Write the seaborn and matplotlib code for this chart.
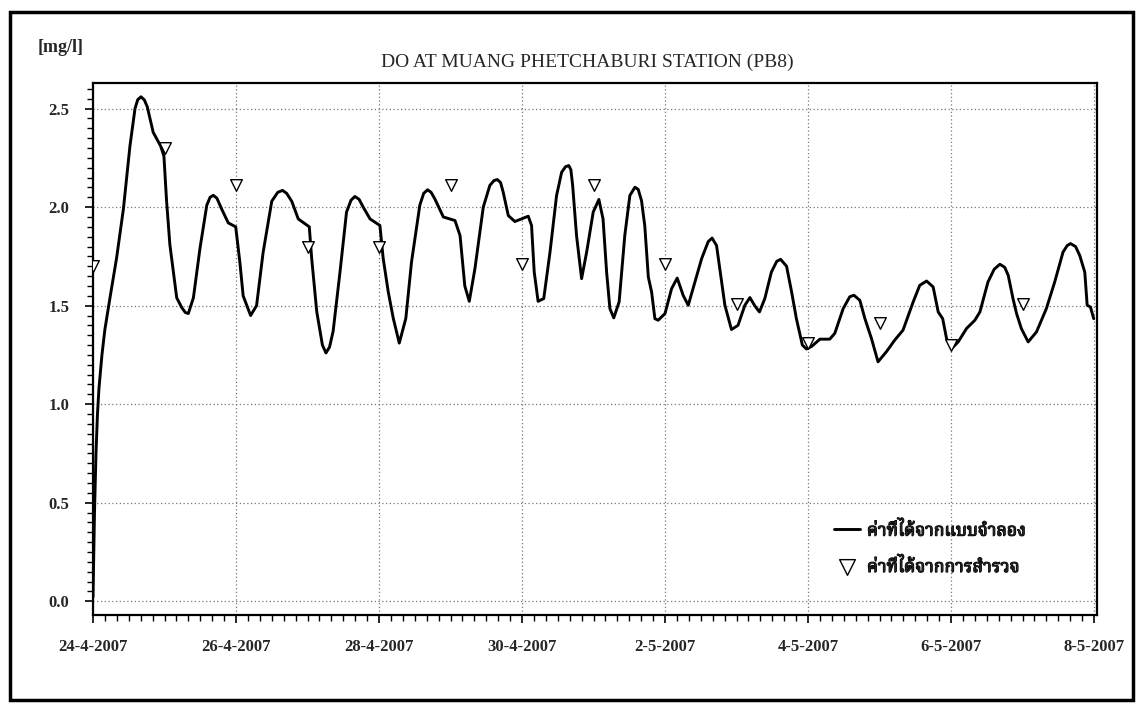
import pandas as pd
import numpy as np
import matplotlib
matplotlib.use("Agg")
import matplotlib.pyplot as plt
import matplotlib.patches as patches
import matplotlib.patheffects as pe
from matplotlib import font_manager
import seaborn as sns

# ============================
# Data
# ============================
start = pd.Timestamp("2007-04-24 00:00")

# model output: hours after 24-4-2007 00:00, DO in mg/l
model_hours = [0, 0.5, 1.0, 1.5, 2.0, 3.0, 4.0, 5.7, 7.9, 10.2, 12.4, 14.1, 15.0, 16.1, 17.2,
               18.2, 20.2, 22.7, 23.8, 24.7, 25.8, 28.1, 29.8, 31.0, 32.0, 33.7, 35.9,
               38.2, 39.3, 40.4, 41.6, 43.2, 45.4, 47.9, 49.3, 50.4, 52.9, 54.9, 57.1,
               60.0, 62.0, 63.6, 65.0, 66.7, 68.9, 72.6, 73.4, 75.1, 77.0, 78.2, 79.4,
               80.6, 82.9, 85.1, 86.6, 87.9, 89.3, 90.7, 93.0, 96.3, 97.4, 99.1, 100.8,
               102.8, 105.0, 106.9, 109.7, 111.0, 112.3, 113.5, 114.8, 117.6, 121.5,
               123.2, 124.8, 126.3, 128.2, 131.0, 133.2, 134.6, 135.7, 136.8, 137.7,
               139.4, 141.6, 146.1, 147.2, 148.1, 149.4, 151.3, 153.4, 155.6, 157.3,
               158.6, 159.7, 160.4, 161.0, 162.3, 164.0, 165.7, 167.9, 169.8, 171.2,
               172.4, 173.5, 174.8, 176.6, 178.5, 180.2, 181.9, 183.0, 184.1, 185.2,
               186.4, 187.5, 188.6, 189.7, 192.0, 194.2, 196.1, 198.1, 199.8, 201.4,
               204.3, 206.5, 207.8, 209.3, 211.0, 212.1, 214.3, 216.5, 218.8, 220.5,
               222.1, 223.7, 225.5, 227.7, 229.5, 230.8, 232.8, 234.5, 236.1, 238.1,
               239.5, 241.2, 244.0, 247.3, 249.0, 251.8, 254.0, 255.4, 257.4, 259.1,
               261.3, 263.5, 266.3, 269.1, 271.9, 275.3, 277.5, 279.8, 282.0, 283.7,
               285.2, 286.5, 288.2, 290.4, 293.2, 296.0, 297.7, 300.4, 302.5, 304.4,
               306.0, 307.2, 308.8, 310.0, 311.6, 313.9, 316.7, 320.0, 322.8, 325.6,
               327.0, 328.1, 329.8, 331.2, 332.9, 333.7, 334.8, 335.9]
model_do = [0.02, 0.45, 0.75, 0.95, 1.08, 1.25, 1.38, 1.54, 1.74, 1.99, 2.31, 2.50, 2.545, 2.56, 2.545,
            2.51, 2.38, 2.31, 2.26, 2.03, 1.81, 1.54, 1.49, 1.465, 1.46, 1.54, 1.79,
            2.01, 2.05, 2.06, 2.045, 1.99, 1.92, 1.90, 1.72, 1.55, 1.45, 1.50, 1.77,
            2.03, 2.075, 2.085, 2.07, 2.03, 1.94, 1.90, 1.74, 1.47, 1.30, 1.26, 1.29,
            1.37, 1.67, 1.975, 2.035, 2.054, 2.04, 2.00, 1.94, 1.907, 1.74, 1.57, 1.435,
            1.31, 1.435, 1.72, 2.01, 2.07, 2.088, 2.075, 2.04, 1.95, 1.932,
            1.856, 1.60, 1.522, 1.688, 2.00, 2.11, 2.135, 2.14, 2.125, 2.075,
            1.957, 1.927, 1.954, 1.907, 1.67, 1.522, 1.536, 1.772, 2.059, 2.177,
            2.205, 2.211, 2.19, 2.11, 1.856, 1.637, 1.772, 1.975, 2.039, 1.94,
            1.67, 1.485, 1.438, 1.519, 1.856, 2.059, 2.101, 2.09, 2.034, 1.907,
            1.645, 1.569, 1.434, 1.426, 1.46, 1.586, 1.64, 1.552, 1.502, 1.586,
            1.739, 1.825, 1.843, 1.805, 1.62, 1.502, 1.379, 1.40, 1.502, 1.541,
            1.50, 1.468, 1.536, 1.67, 1.725, 1.735, 1.70, 1.569, 1.434, 1.30,
            1.28, 1.293, 1.33, 1.33, 1.36, 1.485, 1.545, 1.553, 1.527, 1.434,
            1.333, 1.215, 1.266, 1.325, 1.376, 1.519, 1.603, 1.625, 1.595, 1.468,
            1.434, 1.333, 1.282, 1.316, 1.384, 1.426, 1.468, 1.62, 1.685, 1.71,
            1.695, 1.654, 1.536, 1.46, 1.384, 1.316, 1.367, 1.485, 1.62, 1.772,
            1.805, 1.815, 1.80, 1.755, 1.67, 1.502, 1.493, 1.434]

# survey values, one per day at 00:00
survey_dates = ["2007-04-24", "2007-04-25", "2007-04-26", "2007-04-27", "2007-04-28",
                "2007-04-29", "2007-04-30", "2007-05-01", "2007-05-02", "2007-05-03",
                "2007-05-04", "2007-05-05", "2007-05-06", "2007-05-07"]
survey_do = [1.70, 2.30, 2.11, 1.80, 1.80, 2.11, 1.71, 2.11, 1.71, 1.51,
             1.31, 1.41, 1.30, 1.51]

label_model = "ค่าที่ได้จากแบบจำลอง"
label_survey = "ค่าที่ได้จากการสำรวจ"
title = "DO AT MUANG PHETCHABURI STATION (PB8)"
unit = "[mg/l]"

model_time = start + pd.to_timedelta(model_hours, unit="h")
survey_time = pd.to_datetime(survey_dates)

# ============================
# Style / fonts
# ============================
sns.set_style("ticks")
installed = {f.name for f in font_manager.fontManager.ttflist}
thai_candidates = ["Noto Serif Thai", "Noto Sans Thai", "Noto Sans Thai Looped", "Loma",
                   "Garuda", "Norasi", "Kinnari", "Tlwg Typo", "Waree", "Sawasdee",
                   "Umpush", "Laksaman", "Purisa"]
thai_fonts = [n for n in thai_candidates if n in installed]
plt.rcParams["font.family"] = ["Liberation Serif"] + thai_fonts + ["DejaVu Sans"]

fig = plt.figure(figsize=(11.36, 7.04), dpi=100)
ax = fig.add_axes([93 / 1136, 1 - 615 / 704, 1004 / 1136, 532 / 704])

sns.lineplot(x=model_time, y=model_do, ax=ax, color="black", lw=2.1,
             label=label_model, zorder=2)
sns.scatterplot(x=survey_time, y=survey_do, ax=ax, marker="v", s=70,
                color="white", edgecolor="black", linewidth=1.0,
                label=label_survey, zorder=3)

# axes
ax.set_xlim(start, pd.Timestamp("2007-05-08 01:00"))
ax.set_ylim(-0.07, 2.63)

major_x = pd.date_range("2007-04-24", "2007-05-08", freq="2D")
ax.set_xticks(major_x)
ax.set_xticklabels([f"{d.day}-{d.month}-{d.year}" for d in major_x])
ax.set_xticks(pd.date_range("2007-04-24", "2007-05-08", freq="4h"), minor=True)

ax.set_yticks(np.arange(0, 2.51, 0.5))
ax.set_yticklabels([f"{v:.1f}" for v in np.arange(0, 2.51, 0.5)])
ax.set_yticks(np.arange(0, 2.61, 0.05), minor=True)

ax.tick_params(axis="both", which="major", length=6, width=1.2, color="black",
               labelsize=12)
ax.tick_params(axis="both", which="minor", length=4, width=1.0, color="black")
ax.tick_params(axis="x", which="major", pad=11)
ax.tick_params(axis="y", which="major", pad=11)
for lab in ax.get_xticklabels() + ax.get_yticklabels():
    lab.set_fontweight("bold")

ax.grid(True, which="major", linestyle=(0, (1, 2)), color="#777777", lw=0.9)
for s in ax.spines.values():
    s.set_visible(True)
    s.set_linewidth(1.6)
    s.set_color("black")
ax.set_xlabel("")
ax.set_ylabel("")

leg = ax.legend(loc="upper left", bbox_to_anchor=(0.729, 0.192), frameon=False,
                fontsize=12.6, handlelength=1.5, handletextpad=0.4,
                labelspacing=1.05, markerscale=1.35, borderpad=0)
for t in leg.get_texts():
    t.set_fontweight("bold")
    # the Thai font has no bold face, thicken the strokes instead
    t.set_path_effects([pe.withStroke(linewidth=0.9, foreground="black")])

# titles
fig.text(587 / 1136, 1 - 62 / 704, title, ha="center", va="center", fontsize=14)
fig.text(38 / 1136, 1 - 47 / 704, unit, ha="left", va="center", fontsize=13,
         fontweight="bold")

# outer frame of the figure
fig.patches.append(patches.Rectangle((10 / 1136, 1 - 700 / 704), 1123 / 1136, 688 / 704,
                                     transform=fig.transFigure, fill=False,
                                     lw=2.5, edgecolor="black"))

fig.savefig("out.png", dpi=100, facecolor="white")
